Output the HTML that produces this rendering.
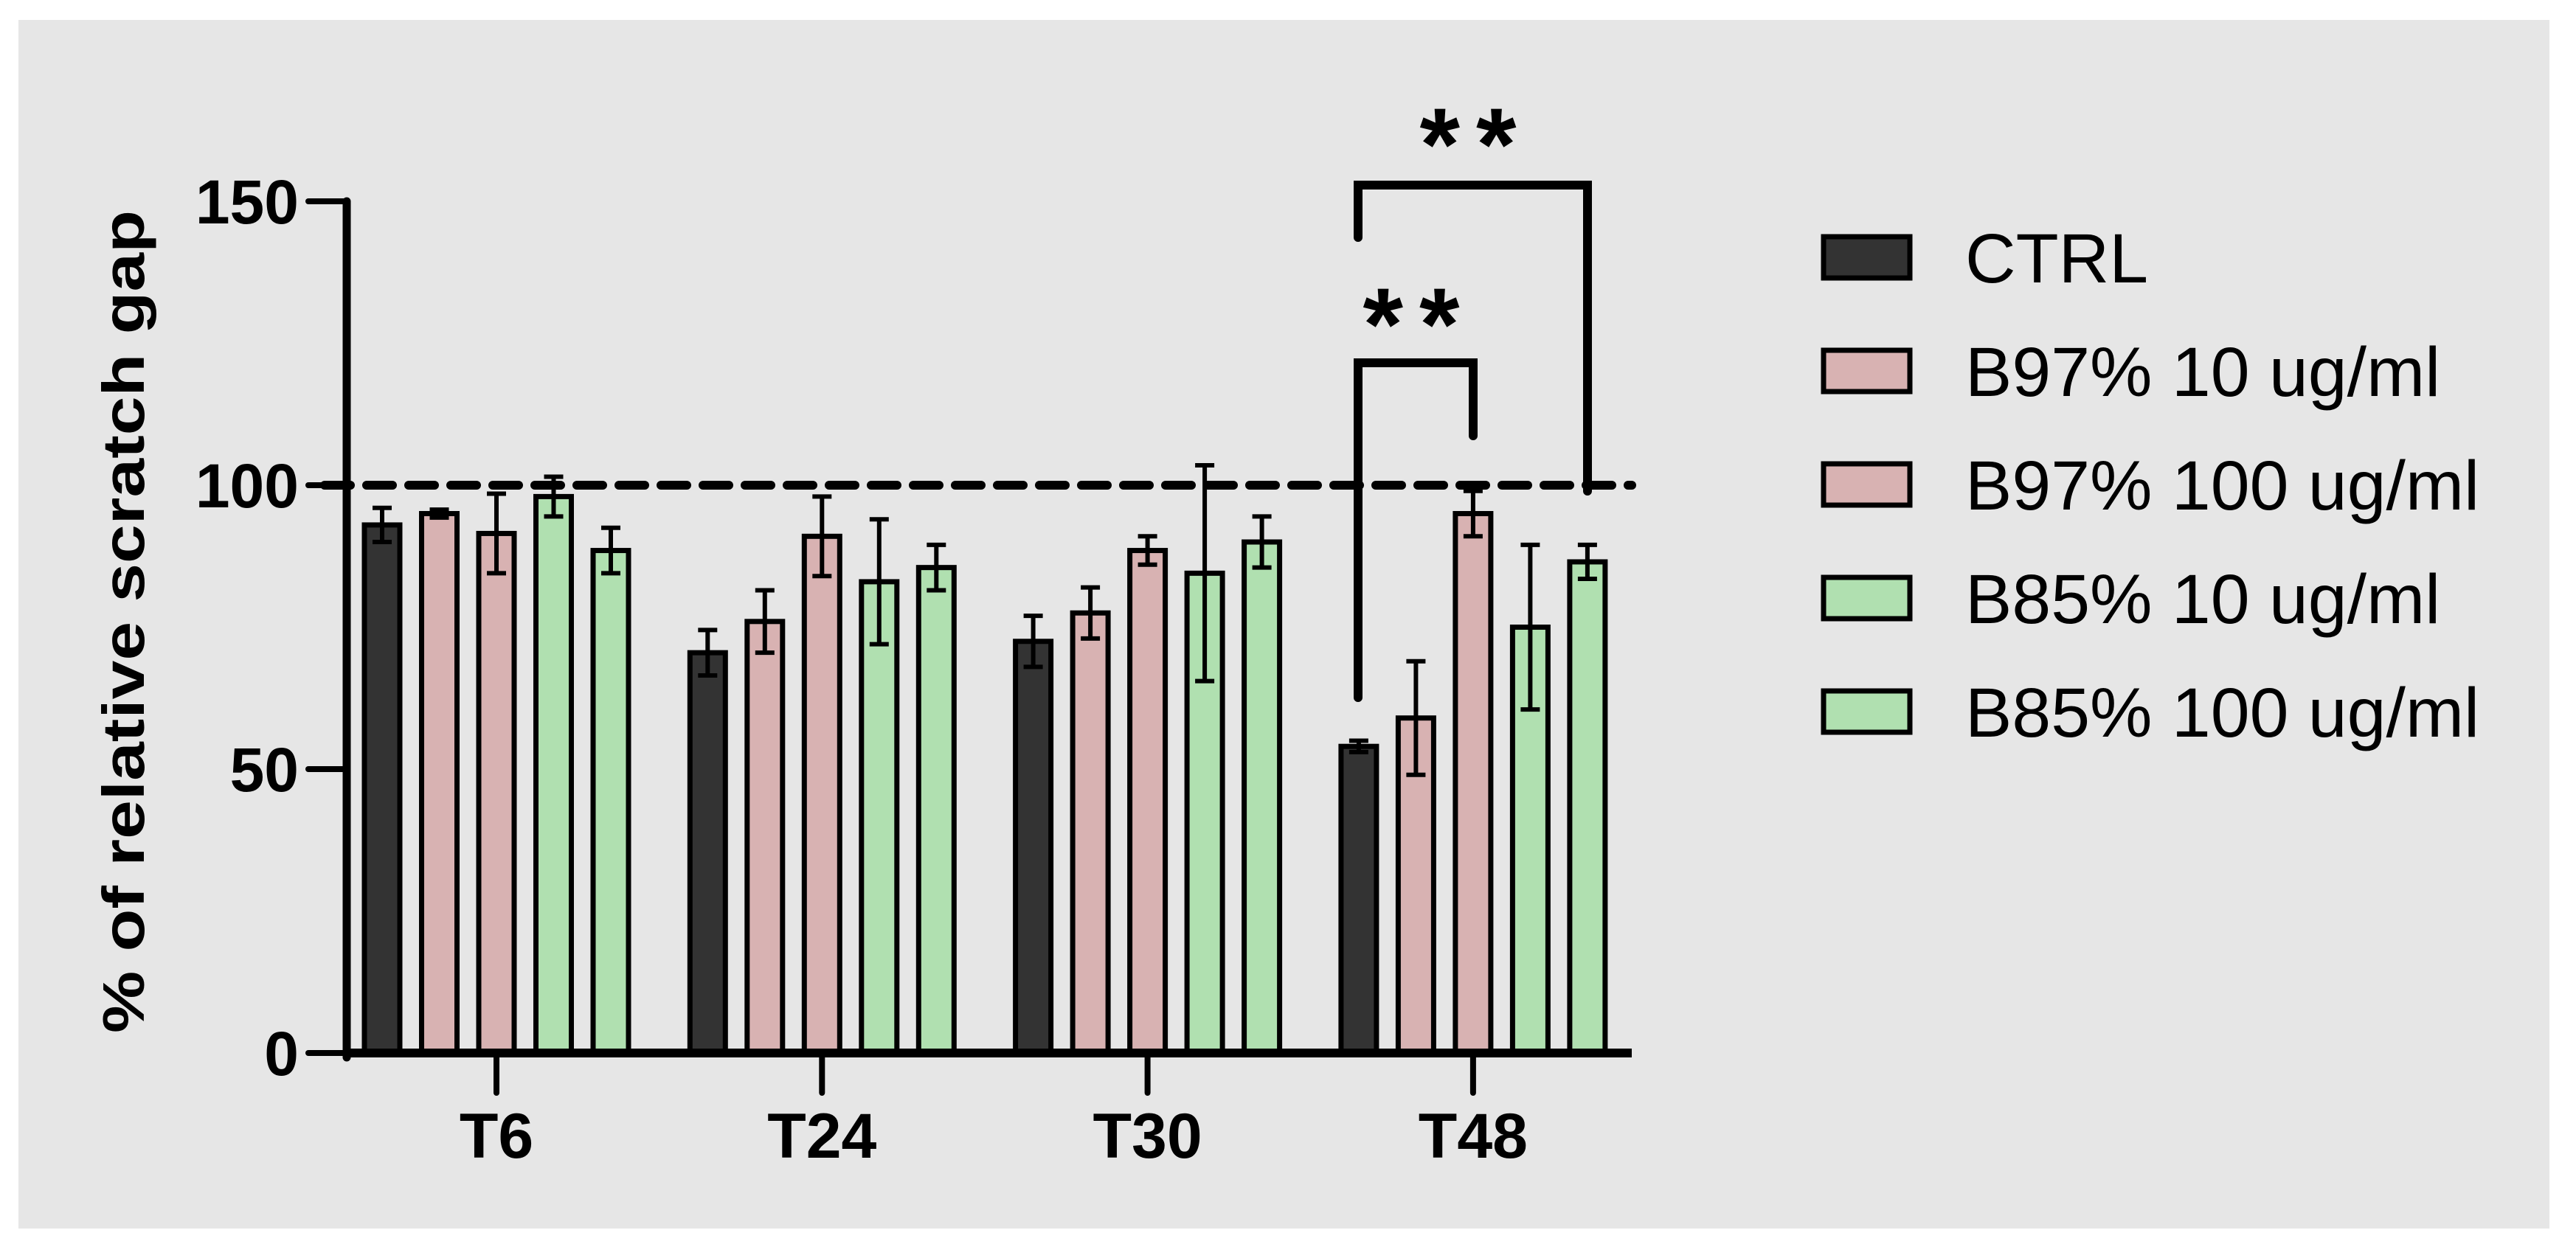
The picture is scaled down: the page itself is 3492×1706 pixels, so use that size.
<!DOCTYPE html>
<html><head><meta charset="utf-8"><style>
html,body{margin:0;padding:0;background:#fff;}
svg{display:block;}
text{font-family:"Liberation Sans",Arial,sans-serif;}
</style></head><body>
<svg id="chart" width="3492" height="1706" viewBox="0 0 3492 1706" xmlns="http://www.w3.org/2000/svg">
<rect x="25" y="27" width="3431" height="1639" fill="#e6e6e6"/>
<g id="plot"></g>
<g id="axes"></g>
<text x="0" y="0" transform="translate(195,843) rotate(-90)" text-anchor="middle" font-size="80" font-weight="bold" textLength="1116" lengthAdjust="spacingAndGlyphs">% of relative scratch gap</text>
<g id="legend"></g>
<g id="sig"></g>
</svg>
<script>
const categories = ["T6","T24","T30","T48"];
const seriesNames = ["CTRL","B97% 10 ug/ml","B97% 100 ug/ml","B85% 10 ug/ml","B85% 100 ug/ml"];
const seriesColors = ["#333333","#d8b2b2","#d8b2b2","#b0e0b0","#b0e0b0"];
const ctrlVals = [93, 70.5, 72.5, 54];
const b97lowVals = [95, 76, 77.5, 59];
const b97highVals = [91.5, 91, 88.5, 95];
const b85lowVals = [98, 83, 84.5, 75];
const b85highVals = [88.5, 85.5, 90, 86.5];
const ctrlErr = [3, 4, 4.5, 1];
const b97lowErr = [0.7, 5.5, 4.5, 10];
const b97highErr = [7, 7, 2.5, 4];
const b85lowErr = [3.5, 11, 19, 14.5];
const b85highErr = [4, 4, 4.5, 3];
const yTicks = [0, 50, 100, 150];
const refLine = 100;

const NS = "http://www.w3.org/2000/svg";
const values = [ctrlVals, b97lowVals, b97highVals, b85lowVals, b85highVals];
const errs = [ctrlErr, b97lowErr, b97highErr, b85lowErr, b85highErr];
const y0 = 1428, yPer = (1428 - 273) / 150;
function yScale(v){ return y0 - v * yPer; }
const groupStart = 673, groupStep = 441.3, barStep = 77.5, barW = 48;
function groupCenter(i){ return groupStart + i * groupStep; }
function barX(g, s){ return groupCenter(g) + (s - 2) * barStep - barW / 2; }
function mk(tag, attrs, parent){ const e = document.createElementNS(NS, tag); for (const k in attrs) e.setAttribute(k, attrs[k]); parent.appendChild(e); return e; }

const plot = document.getElementById('plot');
const dl = mk('line', {x1: 440, x2: 2212, y1: yScale(refLine), y2: yScale(refLine), stroke: '#000', 'stroke-width': 12, 'stroke-dasharray': '35 22', 'stroke-linecap': 'round'}, plot);



for (let g = 0; g < categories.length; g++) {
  for (let s = 0; s < seriesNames.length; s++) {
    const v = values[s][g], e = errs[s][g];
    const x = barX(g, s);
    const r = mk('rect', {x: x, y: yScale(v), width: barW, height: y0 - yScale(v), fill: seriesColors[s], stroke: '#000', 'stroke-width': 7}, plot);
    
    
    const cx = x + barW / 2;
    const eg = mk('g', {stroke: '#000', 'stroke-width': 6}, plot);
    
    
    mk('line', {x1: cx, x2: cx, y1: yScale(v + e), y2: yScale(v - e)}, eg);
    mk('line', {x1: cx - 13, x2: cx + 13, y1: yScale(v + e), y2: yScale(v + e)}, eg);
    mk('line', {x1: cx - 13, x2: cx + 13, y1: yScale(v - e), y2: yScale(v - e)}, eg);
  }
}

const axes = document.getElementById('axes');
const ya = mk('line', {x1: 470, x2: 470, y1: yScale(150), y2: y0 + 6, stroke: '#000', 'stroke-width': 11, 'stroke-linecap': 'round'}, axes);


const xa = mk('line', {x1: 465, x2: 2212, y1: y0, y2: y0, stroke: '#000', 'stroke-width': 12}, axes);


yTicks.forEach(t => {
  const tl = mk('line', {x1: 418, x2: 470, y1: yScale(t), y2: yScale(t), stroke: '#000', 'stroke-width': 8, 'stroke-linecap': 'round'}, axes);
  
  
  const tx = mk('text', {x: 405, y: yScale(t) + 30, 'text-anchor': 'end', 'font-size': 84, 'font-weight': 'bold'}, axes);
  tx.textContent = t;
  
  
});
categories.forEach((c, i) => {
  const cx = groupCenter(i);
  const tl = mk('line', {x1: cx, x2: cx, y1: y0, y2: 1482, stroke: '#000', 'stroke-width': 8, 'stroke-linecap': 'round'}, axes);
  
  
  const tx = mk('text', {x: cx, y: 1570, 'text-anchor': 'middle', 'font-size': 86, 'font-weight': 'bold'}, axes);
  tx.textContent = c;
  
  
});

const legend = document.getElementById('legend');
seriesNames.forEach((n, i) => {
  const ly = 321 + i * 154;
  const g = mk('g', {}, legend);
  
  
  mk('rect', {x: 2472, y: ly, width: 117, height: 56, fill: seriesColors[i], stroke: '#000', 'stroke-width': 7}, g);
  const t = mk('text', {x: 2664, y: ly + 62, 'font-size': 95}, g);
  t.textContent = n;
});

const sig = document.getElementById('sig');
const b1 = mk('path', {d: 'M1841 946 V492 H1997 V591', fill: 'none', stroke: '#000', 'stroke-width': 12, 'stroke-linecap': 'round'}, sig);


const b2 = mk('path', {d: 'M1841 322 V251 H2152 V666', fill: 'none', stroke: '#000', 'stroke-width': 12, 'stroke-linecap': 'round'}, sig);


const s1 = mk('text', {x: 1924, y: 488, 'text-anchor': 'middle', 'font-size': 140, 'font-weight': 'bold', 'letter-spacing': 22}, sig);
s1.textContent = '**';


const s2 = mk('text', {x: 2001, y: 244, 'text-anchor': 'middle', 'font-size': 140, 'font-weight': 'bold', 'letter-spacing': 22}, sig);
s2.textContent = '**';


</script>
</body></html>
